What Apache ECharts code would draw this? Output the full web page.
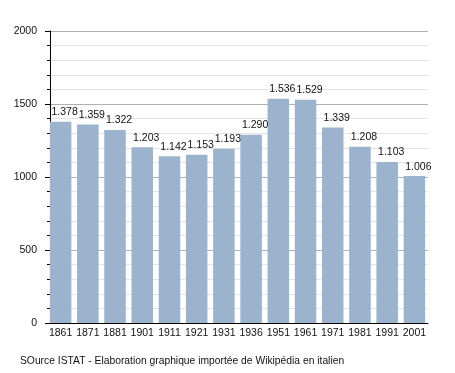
<!DOCTYPE html>
<html><head><meta charset="utf-8">
<script src="https://cdn.jsdelivr.net/npm/echarts@6/dist/echarts.min.js"></script>
<style>html,body{margin:0;padding:0;background:#fff}#c{width:455px;height:373px}</style>
</head><body><div id="c"></div>
<script>
const years = ['1861','1871','1881','1901','1911','1921','1931','1936','1951','1961','1971','1981','1991','2001'];
const population = [1378,1359,1322,1203,1142,1153,1193,1290,1536,1529,1339,1208,1103,1006];
const yTicks = [0,500,1000,1500,2000];
const footer = 'SOurce ISTAT - Elaboration graphique importée de Wikipédia en italien';

const font = 'Liberation Sans, Arial, sans-serif';
const chart = echarts.init(document.getElementById('c'), null, {renderer:'canvas'});
chart.setOption({
  animation:false,
  backgroundColor:'#fff',
  textStyle:{fontFamily:font},
  grid:{left:47,right:27,top:31,bottom:50,containLabel:false},
  graphic:[{type:'text',left:20,top:356,style:{text:footer,font:'10.3px '+font,fill:'#111'}}],
  xAxis:{
    type:'category',data:years,
    axisLine:{lineStyle:{color:'#000',width:1}},
    axisTick:{show:false},
    axisLabel:{color:'#111',fontSize:10.5,fontFamily:font,margin:5,interval:0}
  },
  yAxis:{
    type:'value',min:yTicks[0],max:yTicks[yTicks.length-1],interval:500,offset:-3,
    axisLine:{show:true,lineStyle:{color:'#000'}},
    axisTick:{show:true,length:5,lineStyle:{color:'#000'}},
    minorTick:{show:true,splitNumber:5,length:3,lineStyle:{color:'#000'}},
    axisLabel:{color:'#111',fontSize:10.5,fontFamily:font,margin:13,formatter:v=>String(v)},
    splitLine:{show:true,lineStyle:{color:'#b0b0b0',width:1}},
    minorSplitLine:{show:true,lineStyle:{color:'#e4e4e4',width:1}}
  },
  series:[{
    type:'bar',data:population,barCategoryGap:'21%',
    itemStyle:{color:'#9bb3cc'},
    label:{show:true,position:'top',distance:4,offset:[4,0],color:'#111',fontSize:10.5,fontFamily:font,
      formatter:p=>{const v=p.value;return Math.floor(v/1000)+'.'+String(v%1000).padStart(3,'0');}}
  }]
});
</script></body></html>
